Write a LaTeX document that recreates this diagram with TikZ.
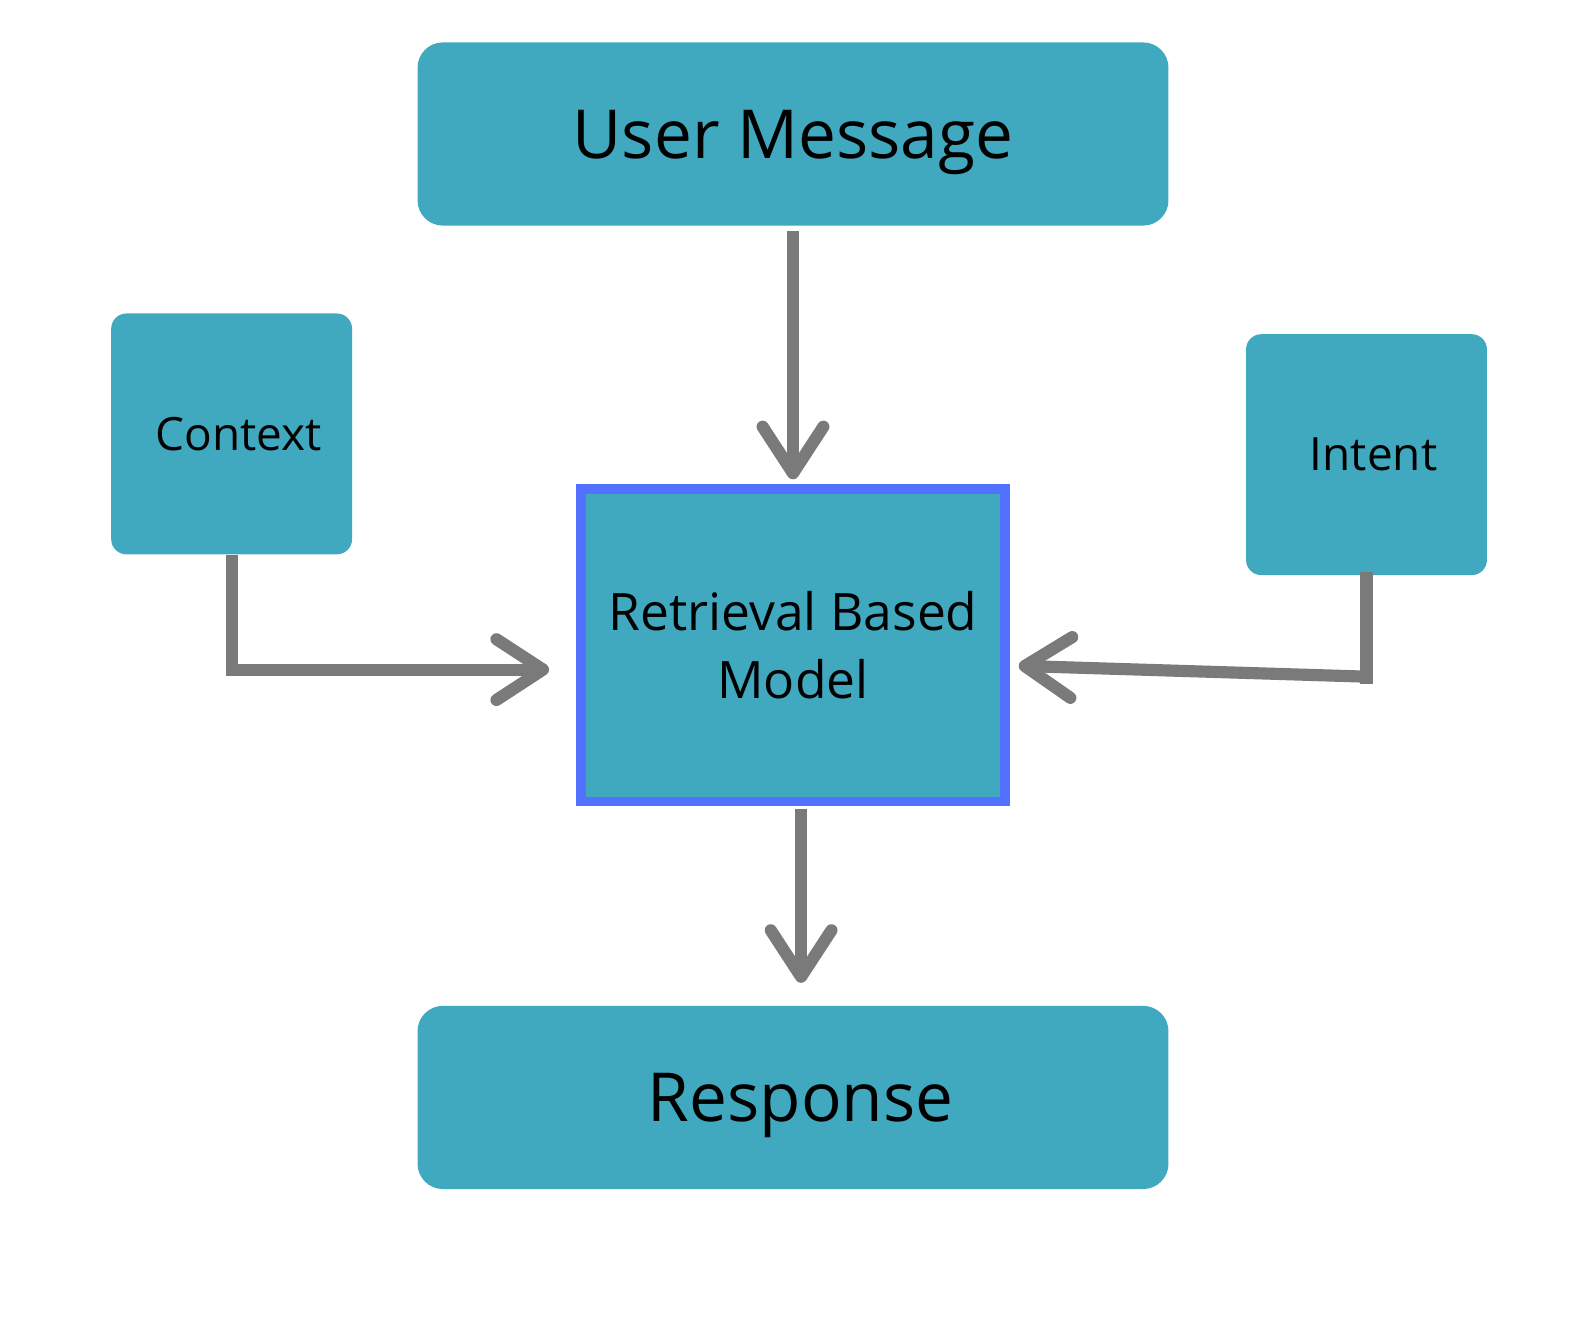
\documentclass[tikz,border=0pt]{standalone}
\usepackage{fontspec}
\setmainfont{Open Sans}
\usetikzlibrary{arrows.meta}
\definecolor{boxTeal}{HTML}{40A9BF}
\definecolor{frameBlue}{HTML}{5271FF}
\definecolor{pipeGray}{HTML}{7A7A7A}

\begin{document}
\begin{tikzpicture}[x = 0.01cm, y = -0.01cm,
		widebox/.style = {fill = boxTeal, rounded corners = 0.25cm, minimum width = 7.42cm, minimum height = 1.81cm, inner sep = 0pt, text height = 13.6pt, text depth = 0pt, font = \fontsize{19}{22}\selectfont},
		sidebox/.style = {fill = boxTeal, rounded corners = 0.15cm, minimum width = 2.38cm, minimum height = 2.38cm, inner sep = 0pt, font = \fontsize{12.9}{15}\selectfont},
		modelbox/.style = {fill = boxTeal, draw = frameBlue, line width = 0.09cm, minimum width = 4.19cm, minimum height = 3.09cm, inner sep = 0pt, align = center, font = \fontsize{14.5}{19.3}\selectfont},
		pipe/.style = {draw = pipeGray, line width = 0.12cm},
		flow/.style = {pipe, -{Straight Barb[length = 0.46cm, width = 0.6cm, round]}}]
		\useasboundingbox (0, 0) rectangle (1569, 1319);
		%%%%%%%%%%%%%
		\node[widebox] (msg) at (784, 132.5) {User Message};
		\node[sidebox] (ctx) at (229, 429) {\hspace*{0.14cm}Context};
		\node[sidebox] (int) at (1351, 449.5) {\hspace*{0.14cm}Intent};
		\node[modelbox] (model) at (784, 638) {Retrieval Based\\Model};
		\node[widebox] (resp) at (784, 1085) {\hspace*{0.15cm}Response};
		\coordinate (ibend) at (1351, 669);
		%%%%%%%%%%%%%
		\draw[flow, shorten <= 0.05cm, shorten >= 0.05cm] (msg) -- (model);
		\draw[flow, shorten <= 0.03cm, shorten >= 0.22cm] ([xshift = 0.08cm]model.south) -- ([xshift = 0.08cm]resp.north);
		\draw[flow, shorten >= 0.27cm] (ctx.south) |- ([yshift = -0.24cm]model.west);
		\draw[pipe] ([yshift = 0.04cm]int.south) -- ++(0, 111);
		\draw[flow, shorten >= 0.09cm] (ibend) -- ([yshift = -0.2cm]model.east);
\end{tikzpicture}
\end{document}
